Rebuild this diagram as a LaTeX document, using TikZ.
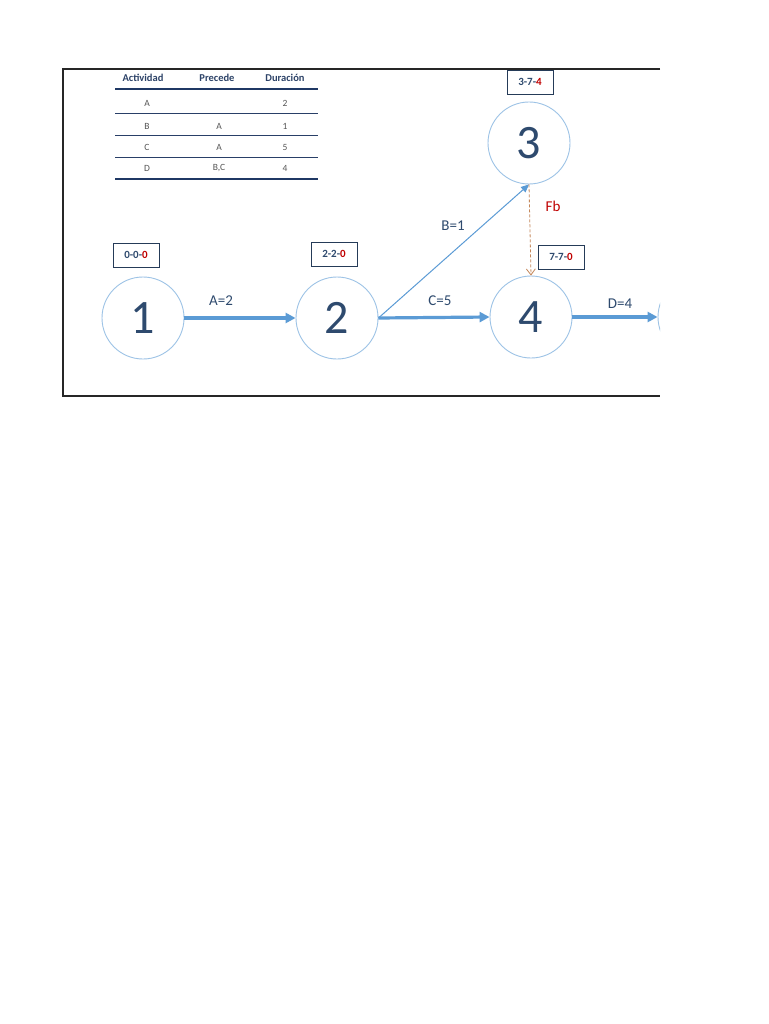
\documentclass[tikz,border=0pt]{standalone}
\usepackage{fontspec}
\setmainfont{Carlito}
\usetikzlibrary{arrows.meta}
\definecolor{circblue}{HTML}{9DC3E6}
\definecolor{arrblue}{HTML}{5B9BD5}
\definecolor{numblue}{HTML}{2E4A6E}
\definecolor{hdrblue}{HTML}{1F3864}
\definecolor{redc}{HTML}{C00000}
\definecolor{fbcol}{HTML}{C4875A}
\definecolor{rowgray}{HTML}{555555}
\tikzset{
  evnode/.style={circle, draw=circblue, line width=0.9pt, minimum size=82pt, inner sep=0pt, font=\fontsize{48}{48}\selectfont, text=numblue},
  tagbox/.style={draw=numblue!80!black, line width=0.8pt, minimum width=46pt, minimum height=24pt, inner sep=0pt, font=\bfseries\fontsize{11}{11}\selectfont, text=numblue},
  thick arrow/.style={draw=arrblue, line width=3.2pt, -{Triangle[length=10pt,width=10pt]}},
  thin arrow/.style={draw=arrblue, line width=1pt, -{Triangle[length=8pt,width=7pt]}},
  elabel/.style={font=\fontsize{15}{15}\selectfont, text=numblue},
  hdr/.style={font=\bfseries\fontsize{10.5}{10.5}\selectfont, text=hdrblue!85!gray},
  cell/.style={font=\fontsize{9.5}{9.5}\selectfont, text=rowgray},
  thickrule/.style={draw=hdrblue, line width=2pt},
  thinrule/.style={draw=hdrblue!90!gray, line width=1pt}
}
\begin{document}
\begin{tikzpicture}[x=1pt,y=-1pt]
\fill[white] (0,0) rectangle (768,1024);
\useasboundingbox (0,0) rectangle (768,1024);
% frame
\draw[line width=1.3pt, draw=black!85] (660,69) -- (63,69) -- (63,396) -- (660,396);
% table
\node[hdr] (h1) at (143,78) {Actividad};
\node[hdr] (h2) at (217,78) {Precede};
\node[hdr] (h3) at (285,78) {Duración};
\draw[thickrule] (115,89) -- (318,89);
\node[cell] (a1) at (147,103) {A};
\node[cell] (a3) at (285,103) {2};
\draw[thinrule] (115,114) -- (318,114);
\node[cell] (b1) at (147,126) {B};
\node[cell] (b2) at (219,126) {A};
\node[cell] (b3) at (285,126) {1};
\draw[thinrule] (115,136) -- (318,136);
\node[cell] (c1) at (147,147) {C};
\node[cell] (c2) at (219,147) {A};
\node[cell] (c3) at (285,147) {5};
\draw[thinrule] (115,158) -- (318,158);
\node[cell] (d1) at (147,168) {D};
\node[cell] (d2) at (219,168) {B,C};
\node[cell] (d3) at (285,168) {4};
\draw[thickrule] (115,179) -- (318,179);
% event nodes
\node[evnode] (n1) at (143,318) {1};
\node[evnode] (n2) at (337,318) {2};
\node[evnode] (n3) at (529,143) {3};
\node[evnode] (n4) at (531,317) {4};
\begin{scope}
\clip (600,250) rectangle (660,390);
\node[evnode] (n5) at (699,317) {};
\end{scope}
% tags
\node[tagbox] (t1) at (136,255) {0-0-\textcolor{redc}{0}};
\node[tagbox] (t2) at (334,254) {2-2-\textcolor{redc}{0}};
\node[tagbox] (t3) at (530,82) {3-7-\textcolor{redc}{4}};
\node[tagbox] (t4) at (561,257) {7-7-\textcolor{redc}{0}};
% arrows
\draw[thick arrow] (n1.east) -- (n2.west);
\draw[thick arrow] (n2.east) -- (n4.west);
\draw[thick arrow] (n4.east) -- (n5.west);
\draw[thin arrow] (n2.east) -- (n3.south);
\draw[draw=fbcol, line width=0.8pt, densely dashed, -{Straight Barb[length=6pt,width=9pt]}] (n3.south) -- (n4.north);
% labels
\node[elabel] (la) at (221,301) {A=2};
\node[elabel] (lb) at (453,226) {B=1};
\node[elabel] (lc) at (440,301) {C=5};
\node[elabel] (ld) at (620,304) {D=4};
\node[font=\fontsize{15}{15}\selectfont, text=redc] (lfb) at (553,206) {Fb};
\end{tikzpicture}
\end{document}
